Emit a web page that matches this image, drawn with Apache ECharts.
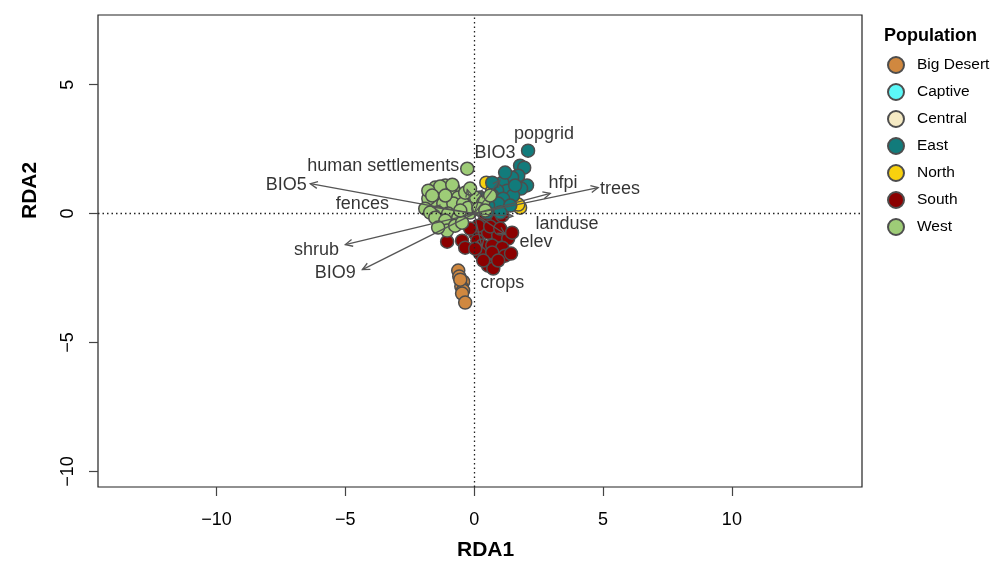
<!DOCTYPE html>
<html>
<head>
<meta charset="utf-8">
<script src="https://cdn.jsdelivr.net/npm/echarts@6/dist/echarts.min.js"></script>
<style>
  html, body { margin: 0; padding: 0; background: #fff; }
  #main { width: 992px; height: 563px; }
</style>
</head>
<body>
<div id="main"></div>
<script>
// populations (legend order) and colours
const populations = ['Big Desert', 'Captive', 'Central', 'East', 'North', 'South', 'West'];
const popColors = ['#D0883F', '#5CF8F8', '#F5EAC4', '#127B7B', '#F8D10E', '#8B0000', '#9ECC77'];

// sample scores [RDA1, RDA2]
const bigDesert = [[-0.62, -2.21], [-0.58, -2.44], [-0.43, -2.64], [-0.50, -2.83], [-0.43, -2.98],
  [-0.47, -3.10], [-0.35, -3.45], [-0.54, -2.56]];
const captive = [];
const central = [];
const east = [[2.09, 2.44], [1.78, 1.86], [1.94, 1.78], [2.05, 1.09], [1.82, 0.97], [1.71, 1.47],
  [1.47, 1.40], [1.09, 1.20], [1.28, 0.89], [0.89, 0.89], [0.70, 0.70], [1.51, 0.70], [1.12, 0.58],
  [0.93, 0.39], [1.40, 0.31], [0.54, 0.31], [0.23, 0.62], [0.70, 1.20], [1.20, 1.59], [1.59, 1.09],
  [0.50, 0.04], [1.01, 0.04]];
const north = [[0.47, 1.20], [1.51, 1.20], [1.63, 1.40], [1.78, 0.23], [1.71, 0.35], [0.89, 1.05],
  [0.70, 0.89]];
const south = [[0.43, -0.19], [0.89, -0.27], [1.09, -0.08], [0.04, -0.78], [0.54, -0.74], [0.93, -0.85],
  [1.32, -0.97], [0.12, -1.05], [0.31, -1.24], [0.70, -1.24], [1.09, -1.32], [0.23, -1.55], [0.70, -1.51],
  [1.20, -1.63], [1.43, -1.55], [0.54, -2.02], [0.74, -2.13], [-1.05, -1.09], [-0.47, -1.05],
  [0.16, -0.47], [0.62, -0.50], [-0.16, -0.58], [1.01, -0.58], [-0.35, -1.32], [0.04, -1.36],
  [1.47, -0.74], [0.35, -1.82], [0.93, -1.82]];
const west = [[-0.27, 1.74], [-1.51, 1.01], [-1.12, 1.09], [-0.81, 0.97], [-1.32, 0.70], [-0.93, 0.78],
  [-0.62, 0.62], [-1.59, 0.39], [-1.20, 0.39], [-0.81, 0.39], [-0.43, 0.39], [0.04, 0.62], [0.35, 0.43],
  [0.62, 0.70], [-1.40, 0.04], [-1.01, 0.00], [-0.16, 0.04], [-0.62, -0.16], [-1.78, 0.58], [-1.90, 0.19],
  [-1.71, 0.04], [-1.51, -0.16], [-1.12, -0.27], [-1.05, -0.66], [-1.40, -0.54], [-0.74, -0.47],
  [-0.47, -0.35], [-0.23, 0.23], [0.16, 0.19], [0.43, 0.12], [-1.32, 1.05], [-0.85, 1.12], [-0.35, 0.81],
  [-0.16, 0.97], [-1.78, 0.89], [-1.63, 0.70], [-0.54, 0.12], [-1.12, 0.70]];
const popData = [bigDesert, captive, central, east, north, south, west];

// environmental vectors: arrow tips and label positions
const varNames = ['BIO5', 'trees', 'hfpi', 'shrub', 'BIO9', 'human settlements', 'fences', 'BIO3', 'popgrid', 'landuse', 'elev', 'crops'];
const arrowX = [-6.36, 4.81, 2.95, -5.00, -4.34, -0.27, -1.60, 0.30, 1.00, 1.50, 1.20, 0.30];
const arrowY = [1.16, 1.01, 0.78, -1.20, -2.17, 0.93, 0.25, 0.90, 1.30, -0.10, -0.80, -1.30];
const labelX = [-7.29, 5.66, 3.45, -6.12, -5.39, -3.53, -4.34, 0.81, 2.71, 3.60, 2.40, 1.09];
const labelY = [1.12, 0.97, 1.20, -1.43, -2.29, 1.86, 0.39, 2.33, 3.10, -0.39, -1.12, -2.71];

const ticks = [-10, -5, 0, 5, 10];
const font = '"Liberation Sans", Arial, Helvetica, sans-serif';
const minus = (v) => String(v).replace('-', '\u2212');

const chart = echarts.init(document.getElementById('main'));

// draw order so the clusters overlap roughly like the original
const drawOrder = [0, 1, 2, 5, 4, 3, 6];

const pointSeries = drawOrder.map((i) => ({
  name: populations[i],
  type: 'scatter',
  data: popData[i],
  symbol: 'circle',
  symbolSize: 13,
  itemStyle: { color: popColors[i], borderColor: '#4d4d4d', borderWidth: 1.5, opacity: 1 },
  emphasis: { disabled: true },
  z: 3
}));

const option = {
  animation: false,
  textStyle: { fontFamily: font },
  grid: {
    left: 98, right: 130, top: 15, bottom: 76,
    show: true, borderColor: '#222', borderWidth: 1.2, backgroundColor: 'transparent'
  },
  legend: {
    data: populations,
    orient: 'vertical',
    left: 882,
    top: 51,
    itemWidth: 16,
    itemHeight: 16,
    itemGap: 9,
    textStyle: { fontSize: 15.5, color: '#000', fontFamily: font, padding: [0, 0, 0, 8] },
    selectedMode: false
  },
  graphic: [
    { type: 'text', left: 884, top: 27, style: { text: 'Population', font: 'bold 18px ' + font, fill: '#000' } },
    { type: 'text', left: 457, top: 540, style: { text: 'RDA1', font: 'bold 21px ' + font, fill: '#000' } },
    { type: 'text', x: 20, y: 219, rotation: Math.PI / 2, style: { text: 'RDA2', font: 'bold 21px ' + font, fill: '#000' } }
  ],
  xAxis: {
    type: 'value', min: -14.6, max: 15.05,
    axisLine: { show: false, onZero: false },
    axisTick: { show: true, customValues: ticks, length: 9, lineStyle: { color: '#444', width: 1.2 } },
    axisLabel: { customValues: ticks, formatter: minus, fontSize: 18, color: '#000', margin: 24, fontFamily: font },
    splitLine: { show: false }
  },
  yAxis: {
    type: 'value', min: -10.6, max: 7.7,
    axisLine: { show: false, onZero: false },
    axisTick: { show: true, customValues: ticks, length: 9, lineStyle: { color: '#444', width: 1.2 } },
    axisLabel: { customValues: ticks, formatter: minus, fontSize: 18, color: '#000', margin: 21, rotate: 90, fontFamily: font },
    splitLine: { show: false }
  },
  series: [
    {
      name: 'zero lines',
      type: 'scatter',
      data: [],
      z: 1,
      markLine: {
        silent: true,
        symbol: 'none',
        label: { show: false },
        lineStyle: { color: '#222', type: [1.5, 3], width: 1.3 },
        data: [{ xAxis: 0 }, { yAxis: 0 }]
      }
    },
    ...pointSeries,
    {
      name: 'vectors',
      type: 'custom',
      z: 5,
      silent: true,
      data: arrowX.map((x, i) => [x, arrowY[i]]),
      encode: { x: 0, y: 1 },
      renderItem: function (params, api) {
        const s = api.coord([0, 0]);
        const e = api.coord([api.value(0), api.value(1)]);
        const ang = Math.atan2(e[1] - s[1], e[0] - s[0]);
        const h = 8, w = Math.PI / 7;
        const st = { stroke: '#555', lineWidth: 1.3, fill: null };
        return {
          type: 'group',
          children: [
            { type: 'line', shape: { x1: s[0], y1: s[1], x2: e[0], y2: e[1] }, style: st },
            {
              type: 'polyline',
              shape: {
                points: [
                  [e[0] - h * Math.cos(ang - w), e[1] - h * Math.sin(ang - w)],
                  e,
                  [e[0] - h * Math.cos(ang + w), e[1] - h * Math.sin(ang + w)]
                ]
              },
              style: st
            }
          ]
        };
      }
    },
    {
      name: 'vector labels',
      type: 'scatter',
      z: 6,
      silent: true,
      symbolSize: 0,
      data: varNames.map((n, i) => ({ name: n, value: [labelX[i], labelY[i]] })),
      label: {
        show: true,
        position: 'inside',
        formatter: (p) => p.name,
        fontSize: 18,
        color: '#000',
        textBorderWidth: 0,
        fontFamily: font
      }
    }
  ]
};

chart.setOption(option);
</script>
</body>
</html>
